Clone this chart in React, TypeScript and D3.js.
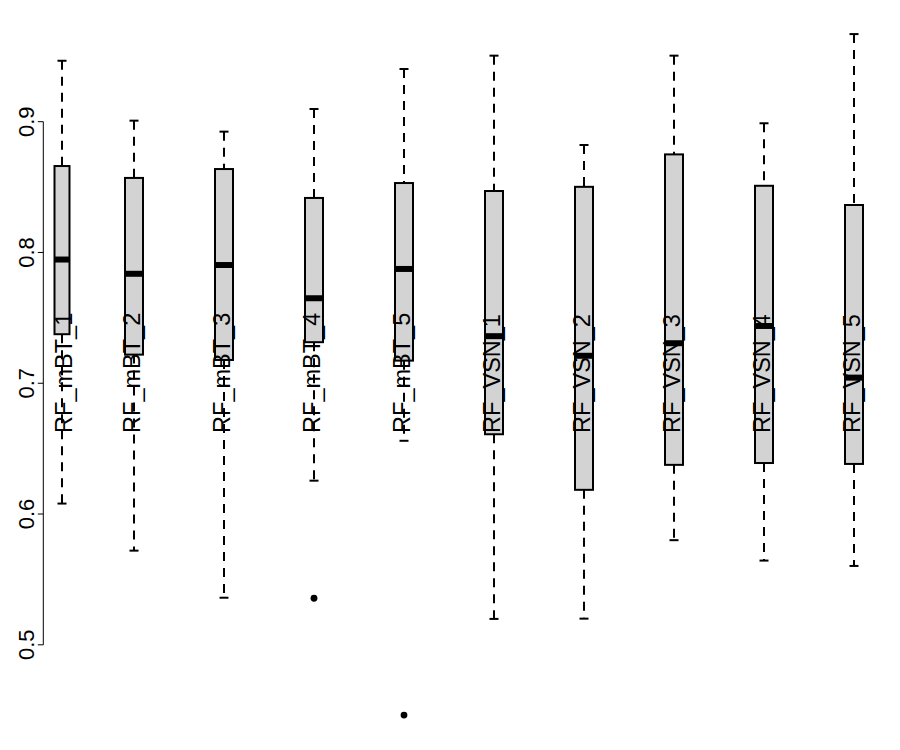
import React from "react";
import * as d3 from "d3";

const categories = ["RF_mBT_1", "RF_mBT_2", "RF_mBT_3", "RF_mBT_4", "RF_mBT_5", "RF_VSN_1", "RF_VSN_2", "RF_VSN_3", "RF_VSN_4", "RF_VSN_5"];
const positions = [1.2, 2, 3, 4, 5, 6, 7, 8, 9, 10];
const upperWhisker = [0.9466, 0.9008, 0.8924, 0.9097, 0.9403, 0.9505, 0.8822, 0.9505, 0.8988, 0.967];
const q3 = [0.8661, 0.857, 0.8638, 0.8417, 0.8531, 0.847, 0.8502, 0.875, 0.851, 0.8363];
const medians = [0.7946, 0.7837, 0.7904, 0.765, 0.7874, 0.736, 0.721, 0.7306, 0.7438, 0.7043];
const q1 = [0.7375, 0.7219, 0.7178, 0.7314, 0.7173, 0.661, 0.6185, 0.6376, 0.639, 0.6383];
const lowerWhisker = [0.608, 0.572, 0.536, 0.6255, 0.656, 0.5198, 0.52, 0.58, 0.5644, 0.5603];
const outliers: number[][] = [[], [], [], [0.5356], [0.4463], [], [], [], [], []];
const yTicks = [0.5, 0.6, 0.7, 0.8, 0.9];
const labelStart = 0.662;

export default function App() {
  const W = 900, H = 750;
  const x = d3.scaleLinear().domain([1, 10]).range([44, 854]);
  const y = d3.scaleLinear().domain([0.5, 0.9]).range([644.8, 121.7]);
  const font = "'Liberation Sans', Arial, sans-serif";
  const axisX = 43.3;

  return (
    <svg width={W} height={H} style={{ position: "absolute", left: 0, top: 0, background: "#fff" }}>
      <g>
        <line x1={axisX} x2={axisX} y1={y(0.5)} y2={y(0.9)} stroke="#000" strokeWidth={1} />
        {yTicks.map((t) => (
          <g key={t}>
            <line x1={axisX - 5.5} x2={axisX} y1={y(t)} y2={y(t)} stroke="#000" strokeWidth={1} />
            <text
              transform={`translate(${33.5},${y(t)}) rotate(-90)`}
              textAnchor="middle"
              fontFamily={font}
              fontSize={22}
              fill="#000"
            >
              {d3.format(".1f")(t)}
            </text>
          </g>
        ))}
      </g>
      {categories.map((c, i) => {
        const cx = x(positions[i]);
        const bw = i === 0 ? 15 : 18;
        const cap = 9;
        return (
          <g key={c}>
            <line x1={cx} x2={cx} y1={y(upperWhisker[i])} y2={y(q3[i])} stroke="#000" strokeWidth={2} strokeDasharray="9,7" />
            <line x1={cx} x2={cx} y1={y(q1[i])} y2={y(lowerWhisker[i])} stroke="#000" strokeWidth={2} strokeDasharray="9,7" />
            <line x1={cx - cap / 2} x2={cx + cap / 2} y1={y(upperWhisker[i])} y2={y(upperWhisker[i])} stroke="#000" strokeWidth={2} />
            <line x1={cx - cap / 2} x2={cx + cap / 2} y1={y(lowerWhisker[i])} y2={y(lowerWhisker[i])} stroke="#000" strokeWidth={2} />
            <rect x={cx - bw / 2} y={y(q3[i])} width={bw} height={y(q1[i]) - y(q3[i])} fill="#d3d3d3" stroke="#000" strokeWidth={2} />
            <line x1={cx - bw / 2} x2={cx + bw / 2} y1={y(medians[i])} y2={y(medians[i])} stroke="#000" strokeWidth={6} />
            {outliers[i].map((o, j) => (
              <circle key={j} cx={cx} cy={y(o)} r={3.4} fill="#000" />
            ))}
          </g>
        );
      })}
      {categories.map((c, i) => {
        const cx = x(positions[i]);
        const off = i === 0 ? 9.5 : 6.3;
        return (
          <text
            key={c}
            transform={`translate(${cx + off},${y(labelStart)}) rotate(-90)`}
            textAnchor="start"
            fontFamily={font}
            fontSize={23.5}
            fill="#000"
          >
            {c}
          </text>
        );
      })}
    </svg>
  );
}
